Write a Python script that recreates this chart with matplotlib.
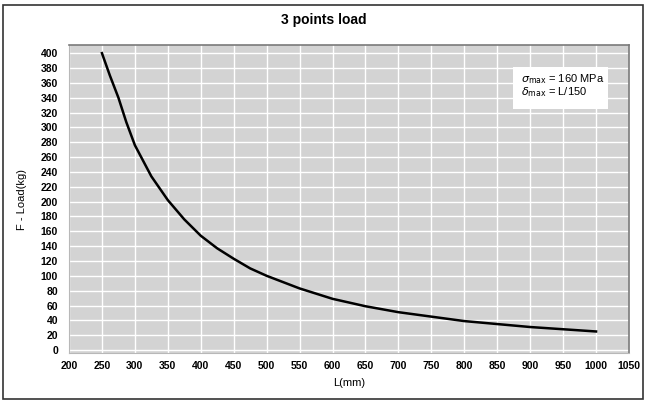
import matplotlib
matplotlib.use("Agg")
import matplotlib.pyplot as plt
from matplotlib.patches import Rectangle

# Data
L_mm = [250, 262, 275, 287, 300, 325, 350, 375, 400, 425, 450, 475, 500, 550, 600, 650, 700,
        750, 800, 850, 900, 950, 1000]
F_kg = [400, 370, 340, 307, 276, 234, 202, 176, 154, 137, 123, 110, 100, 83, 69, 59, 51,
        45, 39, 35, 31, 28, 25]
x_ticks = list(range(200, 1051, 50))
y_ticks = list(range(0, 401, 20))

title = "3 points load"
x_label = "L(mm)"
y_label = "F - Load(kg)"

plt.rcParams['font.family'] = ['Liberation Sans Narrow', 'Liberation Sans', 'DejaVu Sans']

fig = plt.figure(figsize=(6.47, 4.03), dpi=100)
fig.patch.set_facecolor('white')
# outer frame
fig.patches.append(Rectangle((3/647, 4/403), 640/647, 394/403, transform=fig.transFigure,
                             fill=False, edgecolor='#333333', linewidth=1.2))

ax = fig.add_axes([69/647, 1-353/403, 560/647, 308/403])
ax.set_facecolor('#d3d3d3')
ax.plot(L_mm, F_kg, color='black', linewidth=1.8, solid_joinstyle='round')
ax.set_xlim(200, 1050)
ax.set_ylim(-4, 411)
ax.set_xticks(x_ticks)
ax.set_yticks(y_ticks)
ax.set_xticklabels([str(v) for v in x_ticks], fontsize=7.5, fontweight='bold')
ax.set_yticklabels([str(v) for v in y_ticks], fontsize=7.5, fontweight='bold')
ax.tick_params(length=0, pad=6)
ax.tick_params(axis='y', pad=8)
ax.grid(True, color='white', linewidth=1.0)
ax.set_axisbelow(True)
for s in ['top', 'right']:
    ax.spines[s].set_color('#7a7a7a')
    ax.spines[s].set_linewidth(1.2)
for s in ['left', 'bottom']:
    ax.spines[s].set_color('#b8b8b8')
    ax.spines[s].set_linewidth(0.8)

fig.text(0.5, 1-20/403, title, ha='center', va='center', fontsize=10, fontweight='bold')
fig.text(349/647, 1-383/403, x_label, ha='center', va='center', fontsize=8)
fig.text(22/647, 1-200/403, y_label, ha='center', va='center', rotation=90, fontsize=8)

# annotation box
fig.patches.append(Rectangle((513/647, 1-109/403), 95/647, 42/403, transform=fig.transFigure,
                             facecolor='white', edgecolor='none', zorder=5))
fig.text(521/647, 1-79/403, r"$\sigma_{\mathrm{max}}$ = 160 MPa", ha='left', va='center', fontsize=8, zorder=6)
fig.text(521/647, 1-92/403, r"$\delta_{\mathrm{max}}$ = L/150", ha='left', va='center', fontsize=8, zorder=6)

fig.savefig("out.png", dpi=100)
